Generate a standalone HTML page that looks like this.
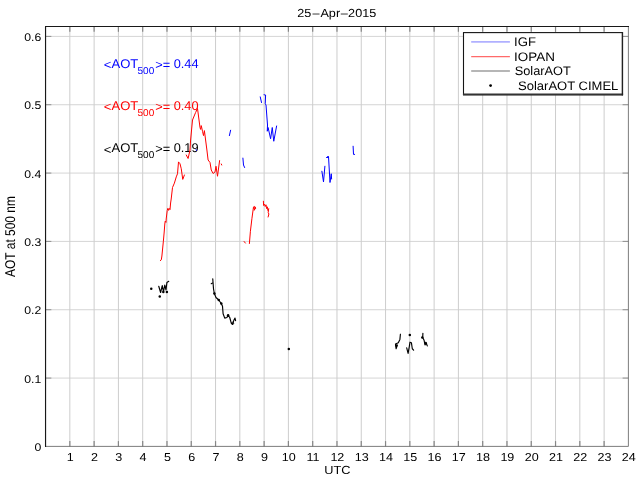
<!DOCTYPE html>
<html><head><meta charset="utf-8"><title>25-Apr-2015 AOT at 500 nm</title>
<style>html,body{margin:0;padding:0;background:#fff;overflow:hidden}svg{display:block}</style></head>
<body>
<svg width="640" height="480" viewBox="0 0 640 480" font-family="'Liberation Sans', sans-serif" text-rendering="geometricPrecision">
<rect width="640" height="480" fill="#fff"/>
<g stroke="#cdcdcd" stroke-width="1.0" fill="none">
<line x1="69.84" y1="26.5" x2="69.84" y2="446.4"/>
<line x1="94.12" y1="26.5" x2="94.12" y2="446.4"/>
<line x1="118.41" y1="26.5" x2="118.41" y2="446.4"/>
<line x1="142.69" y1="26.5" x2="142.69" y2="446.4"/>
<line x1="166.98" y1="26.5" x2="166.98" y2="446.4"/>
<line x1="191.26" y1="26.5" x2="191.26" y2="446.4"/>
<line x1="215.55" y1="26.5" x2="215.55" y2="446.4"/>
<line x1="239.83" y1="26.5" x2="239.83" y2="446.4"/>
<line x1="264.12" y1="26.5" x2="264.12" y2="446.4"/>
<line x1="288.40" y1="26.5" x2="288.40" y2="446.4"/>
<line x1="312.69" y1="26.5" x2="312.69" y2="446.4"/>
<line x1="336.98" y1="26.5" x2="336.98" y2="446.4"/>
<line x1="361.26" y1="26.5" x2="361.26" y2="446.4"/>
<line x1="385.55" y1="26.5" x2="385.55" y2="446.4"/>
<line x1="409.83" y1="26.5" x2="409.83" y2="446.4"/>
<line x1="434.12" y1="26.5" x2="434.12" y2="446.4"/>
<line x1="458.40" y1="26.5" x2="458.40" y2="446.4"/>
<line x1="482.69" y1="26.5" x2="482.69" y2="446.4"/>
<line x1="506.97" y1="26.5" x2="506.97" y2="446.4"/>
<line x1="531.26" y1="26.5" x2="531.26" y2="446.4"/>
<line x1="555.54" y1="26.5" x2="555.54" y2="446.4"/>
<line x1="579.83" y1="26.5" x2="579.83" y2="446.4"/>
<line x1="604.11" y1="26.5" x2="604.11" y2="446.4"/>
</g>
<g stroke="#cdcdcd" stroke-width="0.85" fill="none">
<line x1="45.55" y1="378.07" x2="628.4" y2="378.07"/>
<line x1="45.55" y1="309.73" x2="628.4" y2="309.73"/>
<line x1="45.55" y1="241.40" x2="628.4" y2="241.40"/>
<line x1="45.55" y1="173.07" x2="628.4" y2="173.07"/>
<line x1="45.55" y1="104.73" x2="628.4" y2="104.73"/>
<line x1="45.55" y1="36.40" x2="628.4" y2="36.40"/>
</g>
<g stroke="#868686" stroke-width="1.2" fill="none">
<line x1="69.84" y1="446.4" x2="69.84" y2="441.09999999999997"/>
<line x1="69.84" y1="26.5" x2="69.84" y2="31.8"/>
<line x1="94.12" y1="446.4" x2="94.12" y2="441.09999999999997"/>
<line x1="94.12" y1="26.5" x2="94.12" y2="31.8"/>
<line x1="118.41" y1="446.4" x2="118.41" y2="441.09999999999997"/>
<line x1="118.41" y1="26.5" x2="118.41" y2="31.8"/>
<line x1="142.69" y1="446.4" x2="142.69" y2="441.09999999999997"/>
<line x1="142.69" y1="26.5" x2="142.69" y2="31.8"/>
<line x1="166.98" y1="446.4" x2="166.98" y2="441.09999999999997"/>
<line x1="166.98" y1="26.5" x2="166.98" y2="31.8"/>
<line x1="191.26" y1="446.4" x2="191.26" y2="441.09999999999997"/>
<line x1="191.26" y1="26.5" x2="191.26" y2="31.8"/>
<line x1="215.55" y1="446.4" x2="215.55" y2="441.09999999999997"/>
<line x1="215.55" y1="26.5" x2="215.55" y2="31.8"/>
<line x1="239.83" y1="446.4" x2="239.83" y2="441.09999999999997"/>
<line x1="239.83" y1="26.5" x2="239.83" y2="31.8"/>
<line x1="264.12" y1="446.4" x2="264.12" y2="441.09999999999997"/>
<line x1="264.12" y1="26.5" x2="264.12" y2="31.8"/>
<line x1="288.40" y1="446.4" x2="288.40" y2="441.09999999999997"/>
<line x1="288.40" y1="26.5" x2="288.40" y2="31.8"/>
<line x1="312.69" y1="446.4" x2="312.69" y2="441.09999999999997"/>
<line x1="312.69" y1="26.5" x2="312.69" y2="31.8"/>
<line x1="336.98" y1="446.4" x2="336.98" y2="441.09999999999997"/>
<line x1="336.98" y1="26.5" x2="336.98" y2="31.8"/>
<line x1="361.26" y1="446.4" x2="361.26" y2="441.09999999999997"/>
<line x1="361.26" y1="26.5" x2="361.26" y2="31.8"/>
<line x1="385.55" y1="446.4" x2="385.55" y2="441.09999999999997"/>
<line x1="385.55" y1="26.5" x2="385.55" y2="31.8"/>
<line x1="409.83" y1="446.4" x2="409.83" y2="441.09999999999997"/>
<line x1="409.83" y1="26.5" x2="409.83" y2="31.8"/>
<line x1="434.12" y1="446.4" x2="434.12" y2="441.09999999999997"/>
<line x1="434.12" y1="26.5" x2="434.12" y2="31.8"/>
<line x1="458.40" y1="446.4" x2="458.40" y2="441.09999999999997"/>
<line x1="458.40" y1="26.5" x2="458.40" y2="31.8"/>
<line x1="482.69" y1="446.4" x2="482.69" y2="441.09999999999997"/>
<line x1="482.69" y1="26.5" x2="482.69" y2="31.8"/>
<line x1="506.97" y1="446.4" x2="506.97" y2="441.09999999999997"/>
<line x1="506.97" y1="26.5" x2="506.97" y2="31.8"/>
<line x1="531.26" y1="446.4" x2="531.26" y2="441.09999999999997"/>
<line x1="531.26" y1="26.5" x2="531.26" y2="31.8"/>
<line x1="555.54" y1="446.4" x2="555.54" y2="441.09999999999997"/>
<line x1="555.54" y1="26.5" x2="555.54" y2="31.8"/>
<line x1="579.83" y1="446.4" x2="579.83" y2="441.09999999999997"/>
<line x1="579.83" y1="26.5" x2="579.83" y2="31.8"/>
<line x1="604.11" y1="446.4" x2="604.11" y2="441.09999999999997"/>
<line x1="604.11" y1="26.5" x2="604.11" y2="31.8"/>
<line x1="45.55" y1="378.07" x2="51.349999999999994" y2="378.07" stroke-width="0.9"/>
<line x1="628.4" y1="378.07" x2="622.6" y2="378.07" stroke-width="0.9"/>
<line x1="45.55" y1="309.73" x2="51.349999999999994" y2="309.73" stroke-width="0.9"/>
<line x1="628.4" y1="309.73" x2="622.6" y2="309.73" stroke-width="0.9"/>
<line x1="45.55" y1="241.40" x2="51.349999999999994" y2="241.40" stroke-width="0.9"/>
<line x1="628.4" y1="241.40" x2="622.6" y2="241.40" stroke-width="0.9"/>
<line x1="45.55" y1="173.07" x2="51.349999999999994" y2="173.07" stroke-width="0.9"/>
<line x1="628.4" y1="173.07" x2="622.6" y2="173.07" stroke-width="0.9"/>
<line x1="45.55" y1="104.73" x2="51.349999999999994" y2="104.73" stroke-width="0.9"/>
<line x1="628.4" y1="104.73" x2="622.6" y2="104.73" stroke-width="0.9"/>
<line x1="45.55" y1="36.40" x2="51.349999999999994" y2="36.40" stroke-width="0.9"/>
<line x1="628.4" y1="36.40" x2="622.6" y2="36.40" stroke-width="0.9"/>
</g>
<g fill="none" stroke-linecap="square">
<path d="M628.4 26.5V446.4H45.55" stroke="#6e6e6e" stroke-width="0.9"/>
<path d="M45.55 446.4V26.5H628.4" stroke="#181818" stroke-width="1.15"/>
</g>
<text transform="translate(103.80 68.20) scale(1.0327 1)" font-size="12.65" fill="#0000ff"><tspan dy="1.2">&lt;</tspan><tspan dy="-1.2">AOT</tspan></text>
<text transform="translate(137.50 74.10) scale(0.9979 1)" font-size="10.04" fill="#0000ff">500</text>
<text transform="translate(155.20 68.20) scale(1.0109 1)" font-size="12.65" fill="#0000ff"><tspan dy="1.1">&gt;=</tspan><tspan dy="-1.1"> 0.44</tspan></text>
<text transform="translate(103.80 110.20) scale(1.0327 1)" font-size="12.65" fill="#ff0000"><tspan dy="1.2">&lt;</tspan><tspan dy="-1.2">AOT</tspan></text>
<text transform="translate(137.50 116.10) scale(0.9979 1)" font-size="10.04" fill="#ff0000">500</text>
<text transform="translate(155.20 110.20) scale(1.0109 1)" font-size="12.65" fill="#ff0000"><tspan dy="1.1">&gt;=</tspan><tspan dy="-1.1"> 0.40</tspan></text>
<text transform="translate(103.80 152.30) scale(1.0327 1)" font-size="12.65" fill="#000000"><tspan dy="1.2">&lt;</tspan><tspan dy="-1.2">AOT</tspan></text>
<text transform="translate(137.50 158.20) scale(0.9979 1)" font-size="10.04" fill="#000000">500</text>
<text transform="translate(155.20 152.30) scale(1.0109 1)" font-size="12.65" fill="#000000"><tspan dy="1.1">&gt;=</tspan><tspan dy="-1.1"> 0.19</tspan></text>
<path d="M160.30 260.60 L161.30 259.80 L161.90 256.00 L163.30 241.90 L164.20 232.00 L164.80 224.00 L165.20 221.20 L166.00 222.40 L166.20 219.00 L167.20 210.60 L167.80 208.40 L168.60 210.40 L169.20 208.40 L170.00 209.60 L170.60 203.00 L171.20 199.00 L172.50 187.50 L174.40 183.10 L176.25 176.90 L177.50 173.75 L178.50 161.90 L180.00 163.75 L181.25 168.75 L182.75 179.40 L184.40 175.00" stroke="#ff0000" stroke-width="1.0" fill="none" stroke-linejoin="round" stroke-linecap="round"/>
<path d="M186.25 155.00 L188.10 158.50 L190.00 150.00 L190.60 140.00 L192.50 120.00 L195.60 112.50 L197.50 108.50 L198.10 113.00 L200.00 127.50 L200.60 129.40 L201.25 125.60 L202.50 131.25 L203.50 135.60 L204.40 130.60 L205.60 140.00 L206.90 150.00 L208.10 160.00 L210.00 162.50 L211.25 170.00 L213.10 173.50 L215.00 171.90 L216.00 166.25 L217.50 176.25 L219.60 160.60" stroke="#ff0000" stroke-width="1.0" fill="none" stroke-linejoin="round" stroke-linecap="round"/>
<path d="M221.30 164.00 L221.70 165.00" stroke="#ff0000" stroke-width="1.0" fill="none" stroke-linejoin="round" stroke-linecap="round"/>
<path d="M244.10 241.50 L245.40 243.10" stroke="#ff0000" stroke-width="1.0" fill="none" stroke-linejoin="round" stroke-linecap="round"/>
<path d="M249.40 243.50 L250.40 231.25 L251.90 218.75 L253.50 206.90 L254.60 206.40 L255.80 208.10 L254.60 209.60 L253.80 208.20 L255.20 207.40 L254.30 210.20" stroke="#ff0000" stroke-width="1.0" fill="none" stroke-linejoin="round" stroke-linecap="round"/>
<path d="M263.40 201.25 L263.60 205.50 L264.60 204.20 L265.20 206.50 L266.00 204.80 L266.60 208.60 L267.40 206.80 L267.90 210.50 L268.70 208.60 L268.20 212.50 L268.90 214.00 L268.10 217.00" stroke="#ff0000" stroke-width="1.0" fill="none" stroke-linejoin="round" stroke-linecap="round"/>
<path d="M230.60 130.25 L229.40 135.60" stroke="#0000ff" stroke-width="1.0" fill="none" stroke-linejoin="round" stroke-linecap="round"/>
<path d="M260.25 96.90 L261.50 102.50" stroke="#0000ff" stroke-width="1.0" fill="none" stroke-linejoin="round" stroke-linecap="round"/>
<path d="M264.00 94.75 L265.60 95.00 L265.25 103.75 L266.00 105.00 L267.50 125.00 L267.25 131.25 L268.10 127.50 L270.60 138.75 L272.25 127.50 L273.75 141.25 L276.60 126.00" stroke="#0000ff" stroke-width="1.0" fill="none" stroke-linejoin="round" stroke-linecap="round"/>
<path d="M242.90 158.10 L243.50 165.00 L244.60 167.50" stroke="#0000ff" stroke-width="1.0" fill="none" stroke-linejoin="round" stroke-linecap="round"/>
<path d="M321.90 171.25 L323.50 181.90 L324.90 166.25" stroke="#0000ff" stroke-width="1.0" fill="none" stroke-linejoin="round" stroke-linecap="round"/>
<path d="M326.50 157.50 L328.50 156.50 L330.00 182.50 L331.25 173.75 L331.60 179.00" stroke="#0000ff" stroke-width="1.0" fill="none" stroke-linejoin="round" stroke-linecap="round"/>
<path d="M353.10 146.25 L353.50 154.40 L354.60 154.40" stroke="#0000ff" stroke-width="1.0" fill="none" stroke-linejoin="round" stroke-linecap="round"/>
<path d="M196.10 149.60 L196.50 150.40" stroke="#0000ff" stroke-width="1.0" fill="none" stroke-linejoin="round" stroke-linecap="round"/>
<path d="M158.75 286.25 L160.60 292.50 L162.25 285.60 L163.50 291.90 L164.75 285.00 L166.00 290.00 L166.90 282.50 L168.75 281.25" stroke="#000000" stroke-width="1.15" fill="none" stroke-linejoin="round" stroke-linecap="round"/>
<path d="M211.25 283.75 L212.50 283.10" stroke="#000000" stroke-width="1.15" fill="none" stroke-linejoin="round" stroke-linecap="round"/>
<path d="M212.75 278.75 L213.50 288.75 L214.40 293.75 L216.00 297.50 L218.75 300.00 L221.25 303.50 L222.50 306.25 L223.10 313.75 L224.75 318.10 L226.90 317.50 L228.10 315.25 L229.75 317.50 L231.25 323.10 L232.50 324.40 L233.75 320.60 L235.00 318.10 L235.60 320.60" stroke="#000000" stroke-width="1.15" fill="none" stroke-linejoin="round" stroke-linecap="round"/>
<path d="M400.40 334.20 L399.90 339.40 L398.30 342.70 L395.50 344.10 L396.10 348.75 L397.30 345.00" stroke="#000000" stroke-width="1.15" fill="none" stroke-linejoin="round" stroke-linecap="round"/>
<path d="M406.70 347.80 L408.10 353.40 L409.25 346.90 L410.00 342.20 L411.40 342.70 L412.30 348.75 L413.60 350.20" stroke="#000000" stroke-width="1.15" fill="none" stroke-linejoin="round" stroke-linecap="round"/>
<path d="M422.90 333.30 L422.70 337.50 L424.10 340.30 L425.00 345.00 L425.90 342.20 L427.30 345.90" stroke="#000000" stroke-width="1.15" fill="none" stroke-linejoin="round" stroke-linecap="round"/>
<circle cx="327.9" cy="157.2" r="0.9" fill="#0000ff"/>
<circle cx="151.25" cy="288.75" r="1.25" fill="#000"/>
<circle cx="159.75" cy="296.5" r="1.25" fill="#000"/>
<circle cx="163.3" cy="291.9" r="1.25" fill="#000"/>
<circle cx="166.9" cy="292.1" r="1.25" fill="#000"/>
<circle cx="214.4" cy="293.5" r="1.25" fill="#000"/>
<circle cx="218.75" cy="300" r="1.25" fill="#000"/>
<circle cx="221.25" cy="303.5" r="1.25" fill="#000"/>
<circle cx="228.1" cy="315.25" r="1.25" fill="#000"/>
<circle cx="288.8" cy="348.9" r="1.25" fill="#000"/>
<circle cx="409.8" cy="334.9" r="1.25" fill="#000"/>
<circle cx="422.3" cy="337.6" r="1.25" fill="#000"/>
<circle cx="425.8" cy="343.4" r="1.25" fill="#000"/>
<circle cx="396.4" cy="345.6" r="1.25" fill="#000"/>
<circle cx="232.6" cy="323.3" r="1.1" fill="none" stroke="#000" stroke-width="0.9"/>
<text transform="translate(297.2 16.8) scale(1.075 1)" font-size="11.76">25<tspan dx="1.2">–</tspan><tspan dx="0.8">Apr</tspan><tspan dx="0.6">–</tspan><tspan dx="0.3">2015</tspan></text>
<text transform="translate(66.75 460.8) scale(1.095 1)" font-size="11.47">1</text>
<text transform="translate(91.04 460.8) scale(1.095 1)" font-size="11.47">2</text>
<text transform="translate(115.32 460.8) scale(1.095 1)" font-size="11.47">3</text>
<text transform="translate(139.61 460.8) scale(1.095 1)" font-size="11.47">4</text>
<text transform="translate(163.89 460.8) scale(1.095 1)" font-size="11.47">5</text>
<text transform="translate(188.18 460.8) scale(1.095 1)" font-size="11.47">6</text>
<text transform="translate(212.46 460.8) scale(1.095 1)" font-size="11.47">7</text>
<text transform="translate(236.75 460.8) scale(1.095 1)" font-size="11.47">8</text>
<text transform="translate(261.03 460.8) scale(1.095 1)" font-size="11.47">9</text>
<text transform="translate(281.82 460.8) scale(1.095 1)" font-size="11.47">10</text>
<text transform="translate(306.57 460.8) scale(1.095 1)" font-size="11.47">11</text>
<text transform="translate(330.39 460.8) scale(1.095 1)" font-size="11.47">12</text>
<text transform="translate(354.67 460.8) scale(1.095 1)" font-size="11.47">13</text>
<text transform="translate(378.96 460.8) scale(1.095 1)" font-size="11.47">14</text>
<text transform="translate(403.25 460.8) scale(1.095 1)" font-size="11.47">15</text>
<text transform="translate(427.53 460.8) scale(1.095 1)" font-size="11.47">16</text>
<text transform="translate(451.82 460.8) scale(1.095 1)" font-size="11.47">17</text>
<text transform="translate(476.10 460.8) scale(1.095 1)" font-size="11.47">18</text>
<text transform="translate(500.39 460.8) scale(1.095 1)" font-size="11.47">19</text>
<text transform="translate(524.67 460.8) scale(1.095 1)" font-size="11.47">20</text>
<text transform="translate(548.96 460.8) scale(1.095 1)" font-size="11.47">21</text>
<text transform="translate(573.24 460.8) scale(1.095 1)" font-size="11.47">22</text>
<text transform="translate(597.53 460.8) scale(1.095 1)" font-size="11.47">23</text>
<text transform="translate(621.81 460.8) scale(1.095 1)" font-size="11.47">24</text>
<text transform="translate(34.45 451.10) scale(1.095 1)" font-size="11.18">0</text>
<text transform="translate(24.23 382.77) scale(1.095 1)" font-size="11.18">0.1</text>
<text transform="translate(24.23 314.43) scale(1.095 1)" font-size="11.18">0.2</text>
<text transform="translate(24.23 246.10) scale(1.095 1)" font-size="11.18">0.3</text>
<text transform="translate(24.23 177.77) scale(1.095 1)" font-size="11.18">0.4</text>
<text transform="translate(24.23 109.43) scale(1.095 1)" font-size="11.18">0.5</text>
<text transform="translate(24.23 41.10) scale(1.095 1)" font-size="11.18">0.6</text>
<text transform="translate(324.30 474.40) scale(1.0911 1)" font-size="11.68" fill="#000">UTC</text>
<text transform="translate(15.0 276.90) rotate(-90) scale(0.8425 1)" font-size="14.18">AOT at 500 nm</text>
<rect x="463.5" y="32.6" width="159" height="62" fill="#fff" stroke="#151515" stroke-width="1.1"/>
<line x1="462.95" y1="94.55" x2="623.1" y2="94.55" stroke="#333" stroke-width="1.9"/>
<line x1="622.4" y1="32.1" x2="622.4" y2="95.4" stroke="#222" stroke-width="1.35"/>
<line x1="471.2" y1="41.9" x2="509.9" y2="41.9" stroke="#b0b0ff" stroke-width="1.9"/>
<line x1="471.2" y1="56.6" x2="509.9" y2="56.6" stroke="#ff6a6a" stroke-width="1.1"/>
<line x1="471.2" y1="71.0" x2="509.9" y2="71.0" stroke="#b6b6b6" stroke-width="2"/>
<circle cx="490.6" cy="85.6" r="1.4" fill="#000"/>
<text transform="translate(514.10 45.80) scale(1.0499 1)" font-size="12.51" fill="#000">IGF</text>
<text transform="translate(514.10 60.50) scale(1.0864 1)" font-size="12.36" fill="#000">IOPAN</text>
<text transform="translate(514.75 75.00) scale(1.0327 1)" font-size="12.36" fill="#000">SolarAOT</text>
<text transform="translate(518.00 89.50) scale(1.0536 1)" font-size="12.36" fill="#000">SolarAOT CIMEL</text>
</svg>
</body></html>
